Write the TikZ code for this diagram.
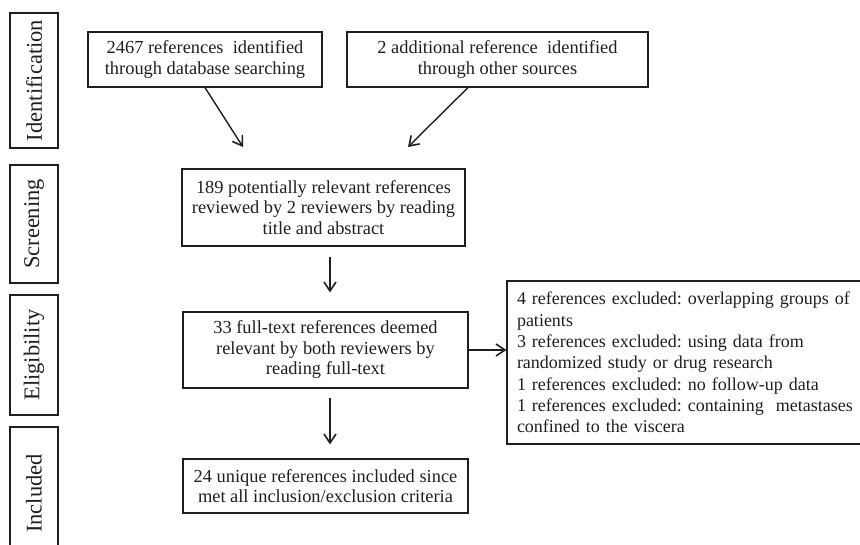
\documentclass[tikz,border=0pt]{standalone}
\usepackage{fontspec}
\setmainfont{Liberation Serif}
\usetikzlibrary{arrows.meta, calc, positioning}

\begin{document}
\frenchspacing
\begin{tikzpicture}[x=1pt, y=-1pt, line width=1.2pt, color=black!88,
    >={Straight Barb[length=9pt,width=12pt,line width=1.6pt]},
    box/.style={draw, inner sep=0pt, align=center, font=\fontsize{18.4}{20.5}\selectfont},
    link/.style={->, line width=1.4pt},
    stage/.style={draw, rotate=90, inner sep=0pt, minimum height=48pt, font=\fontsize{22.5}{26}\selectfont}]
    \useasboundingbox (0,0) rectangle (860,545);
    \clip (0,0) rectangle (860,545);

    % Stage labels on the left
    \node[stage, minimum width=135pt] (labId) at (34,80.5) {Identification};
    \node[stage, minimum width=118pt] (labScr) at (34,224) {Screening};
    \node[stage, minimum width=120pt] (labElig) at (34,355) {Eligibility};
    \node[stage, minimum width=133pt] (labIncl) at (34,493.5) {Included};

    % Identification
    \node[box, minimum width=234pt, minimum height=55pt] (db) at (205,59.5) {2467 references\ \ identified\\through database searching};
    \node[box, minimum width=301pt, minimum height=55pt] (other) at (497.5,59.5) {2 additional reference\ \ identified\\through other sources};

    % Screening
    \node[box, minimum width=283pt, minimum height=77pt] (screened) at (323.5,207.5) {189 potentially relevant references\\reviewed by 2 reviewers by reading\\title and abstract};

    % Eligibility
    \node[box, minimum width=400pt, minimum height=163pt, text width=380pt, align=left, font=\fontsize{18}{21.3}\selectfont] (excluded) at (707,362.5) {4 references excluded: overlapping groups of\\patients\\3 references excluded: using data from\\randomized study or drug research\\1 references excluded: no follow-up data\\1 references excluded: containing\ \ metastases\\confined to the viscera};
    \node[box, minimum width=285pt, minimum height=76pt] (fulltext) at (325.5,350) {33 full-text references deemed\\relevant by both reviewers by\\reading full-text};

    % Included
    \node[box, minimum width=285pt, minimum height=54pt] (included) at (325.5,486) {24 unique references included since\\met all inclusion/exclusion criteria};

    % Arrows
    \coordinate (dbend) at (243,147);
    \coordinate (otherend) at (408,147);
    \coordinate (spine) at (330,0);
    \draw[link] (db.south) -- (dbend);
    \draw[link] ($(other.south)+(-29.5,0)$) -- (otherend);
    \draw[link, shorten <=10pt, shorten >=19pt] (screened.south -| spine) -- (fulltext.north -| spine);
    \draw[link, shorten <=9pt, shorten >=14pt] (fulltext.south -| spine) -- (included.north -| spine);
    \draw[link] (fulltext.east) -- (fulltext.east -| excluded.west);
\end{tikzpicture}
\end{document}
